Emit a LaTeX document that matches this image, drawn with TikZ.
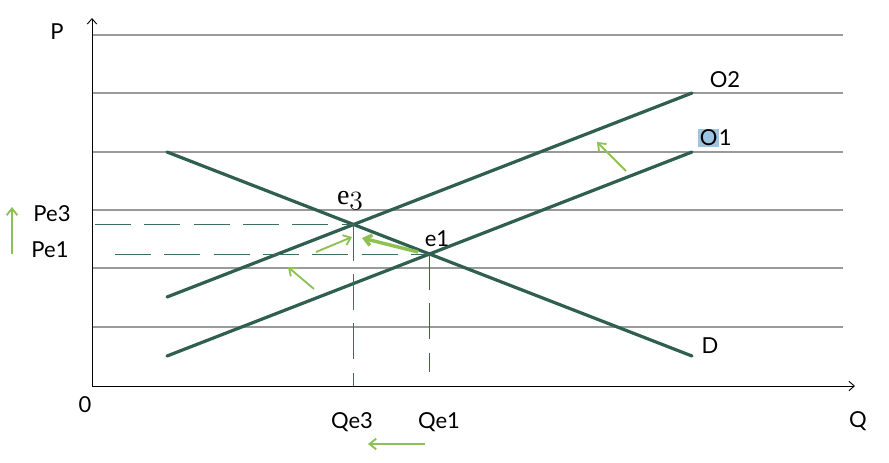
\documentclass[tikz,border=0pt]{standalone}
\usepackage{fontspec}
\setmainfont{Lato}
\newfontfamily\seriffam{Liberation Serif}
\usetikzlibrary{arrows.meta,intersections}
\definecolor{curvegreen}{HTML}{2F5F4F}
\definecolor{shiftgreen}{HTML}{8DC153}
\definecolor{gridgray}{HTML}{9A9A9A}
\definecolor{dashgreen}{HTML}{3E6E5E}
\definecolor{dashblue}{HTML}{4A5878}
\definecolor{hlblue}{HTML}{9EC5E0}

\begin{document}
\begin{tikzpicture}[x=0.75pt,y=-0.75pt,
    curve/.style={curvegreen,line width=2.4pt,line cap=round},
    shiftarrow/.style={shiftgreen,line width=1.4pt,-{Straight Barb[length=5pt,width=8pt]}},
    guide/.style={dashgreen,line width=0.6pt,dash pattern=on 27pt off 10pt},
    gridline/.style={gridgray,line width=0.9pt},
    axis/.style={black,line width=0.7pt,-{Straight Barb[length=4pt,width=7pt]}},
    lbl/.style={font=\fontsize{16.5}{18}\selectfont,inner sep=0pt}]
  \useasboundingbox (0,0) rectangle (889,462);

  % grid and axes
  \foreach \y in {35,93,152,210,268,327}{
    \draw[gridline] (92,\y) -- (843,\y);
  }
  \coordinate (origin) at (92,386);
  \coordinate (ytip) at (92,18);
  \coordinate (xtip) at (855,386);
  \draw[axis] (origin) -- (ytip);
  \draw[axis] (origin) -- (xtip);

  % demand and supply lines
  \coordinate (Dtop) at (167,152);
  \coordinate (Dbot) at (692,356);
  \coordinate (O1bot) at (167,356);
  \coordinate (O1top) at (692,152);
  \coordinate (O2bot) at (167,297);
  \coordinate (O2top) at (692,93);
  \draw[curve,name path=dline] (Dtop) -- (Dbot);
  \draw[curve,name path=oneline] (O1bot) -- (O1top);
  \draw[curve,name path=twoline] (O2bot) -- (O2top);
  \path[name intersections={of=dline and oneline,by=e1}];
  \path[name intersections={of=dline and twoline,by=e3}];

  % equilibrium guides
  \coordinate (p3) at (95,0);
  \coordinate (p1) at (115,0);
  \coordinate (q1end) at (0,372);
  \draw[guide] (p3 |- e3) -- (e3);
  \draw[guide] (p1 |- e1) -- (e1);
  \draw[guide] (e3) -- (e3 |- origin);
  \draw[guide,dashblue] (e1) -- (e1 |- q1end);

  % shifts
  \draw[shiftarrow] (12,254) -- (12,207);
  \draw[shiftarrow] (425,444) -- (368,444);
  \draw[shiftarrow] (626,171) -- (597,142);
  \draw[shiftarrow] (314,289) -- (288,267);
  \draw[shiftarrow] (316,252) -- (352,237);
  \draw[shiftarrow,line width=2.6pt] (418,252) -- (362,238);

  % labels
  \node[lbl] (P) at (57,32) {P};
  \node[lbl] (zero) at (85,405) {0};
  \node[lbl] (Q) at (858,421) {Q};
  \node[lbl] (Qe3) at (352,422) {Qe3};
  \node[lbl] (Qe1) at (439,422) {Qe1};
  \node[lbl] (Pe3) at (52,214) {Pe3};
  \node[lbl] (Pe1) at (50,250) {Pe1};
  \node[lbl,font=\seriffam\fontsize{21}{23}\selectfont] (e3lbl) at (350,201)
    {e{\usefont{OML}{cmm}{m}{it}3}};
  \node[lbl] (e1lbl) at (437,239) {e1};
  \node[lbl] (O2) at (725,80) {O2};
  \node[lbl] (O1) at (715,138) {\setlength{\fboxsep}{1pt}\colorbox{hlblue}{O}1};
  \node[lbl] (D) at (710,346) {D};
\end{tikzpicture}
\end{document}
